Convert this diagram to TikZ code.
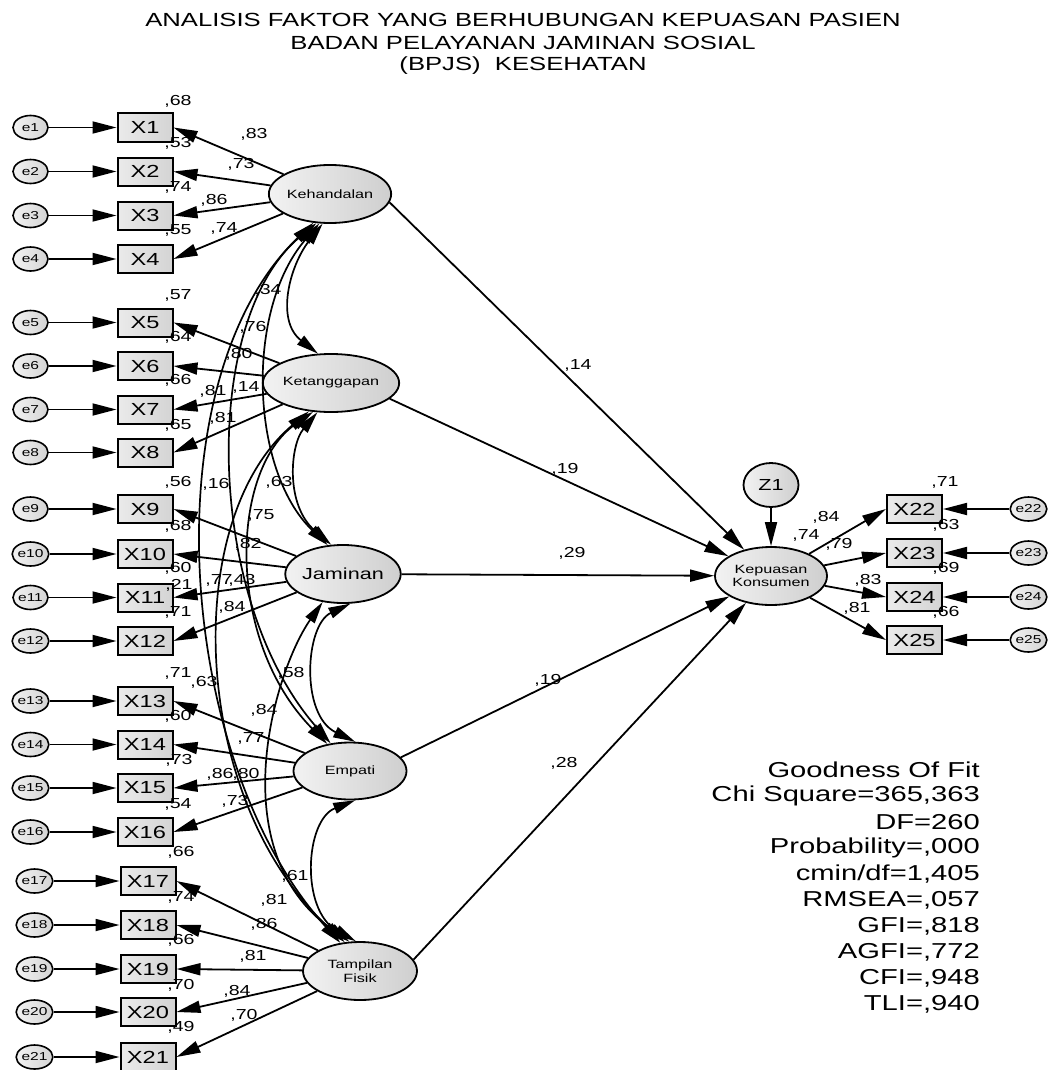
\documentclass[tikz,border=0pt]{standalone}
\usepackage{fontspec}
\setmainfont{Liberation Sans}[FakeStretch=1.35]
\usetikzlibrary{arrows.meta,shapes.geometric}
\newcommand{\myfs}[1]{\fontsize{#1}{#1}\selectfont}
\begin{document}
\begin{tikzpicture}[x=1pt,y=-1pt,
  obs/.style={draw,line width=2pt,left color=black!8,right color=black!17,minimum width=55pt,minimum height=28pt,inner sep=0pt,font=\myfs{17.5}},
  err/.style={ellipse,draw,line width=1.6pt,left color=black!5,right color=black!17,minimum width=35pt,minimum height=24pt,inner sep=0pt,font=\myfs{11.5}},
  lat/.style={ellipse,draw,line width=1.8pt,left color=black!5,right color=black!19,minimum width=114pt,minimum height=58pt,inner sep=0pt,align=center,font=\fontsize{12}{13.5}\selectfont},
  arr/.style={line width=1.8pt,-{Triangle[length=24pt,width=12pt]}},
  cov/.style={line width=1.7pt,{Triangle[length=22pt,width=11pt]}-{Triangle[length=22pt,width=11pt]}},
  num/.style={font=\myfs{14.5},inner sep=0pt},
  gof/.style={font=\myfs{21.6},inner sep=0pt,anchor=east},
  ttl/.style={font=\myfs{19},inner sep=0pt}]
\useasboundingbox (0,0) rectangle (1047,1070);

% title
\node[ttl] (t1) at (523,20) {ANALISIS FAKTOR YANG BERHUBUNGAN KEPUASAN PASIEN};
\node[ttl] (t2) at (523,43) {BADAN PELAYANAN JAMINAN SOSIAL};
\node[ttl] (t3) at (523,66) {(BPJS)\ \ KESEHATAN};

% observed variables and errors (left)
\foreach \i/\y in {1/127.5,2/171.5,3/215.5,4/259,5/322.5,6/366,7/409.5,8/452.5,9/509,10/554,11/597.5,12/641,13/701,14/744.5,15/788,16/832}{
  \node[obs] (X\i) at (145,\y) {X\i};
  \node[err] (e\i) at (30.5,\y) {e\i};
  \draw[arr] (e\i) -- (X\i);
}
\foreach \i/\y in {17/881,18/925,19/969,20/1012,21/1057}{
  \node[obs] (X\i) at (148,\y) {X\i};
  \node[err] (e\i) at (34.5,\y) {e\i};
  \draw[arr] (e\i) -- (X\i);
}

% latent variables
\node[lat] (Keh) at (330,194) {Kehandalan};
\node[lat] (Ket) at (331,383) {Ketanggapan};
\node[lat,minimum width=111pt,font=\myfs{16}] (Jam) at (343,574) {Jaminan};
\node[lat,minimum width=113pt,minimum height=57pt] (Emp) at (350,771) {Empati};
\node[lat] (Tam) at (360,971) {Tampilan\\Fisik};
\node[lat,minimum width=112pt] (Kep) at (771,576) {Kepuasan\\Konsumen};
\node[ellipse,draw,line width=1.8pt,left color=black!5,right color=black!19,minimum width=55pt,minimum height=44pt,inner sep=0pt,font=\myfs{16}] (Z1) at (771,485) {Z1};

% loadings
\foreach \i in {1,2,3,4}{\draw[arr] (Keh) -- (X\i.east);}
\foreach \i in {5,6,7,8}{\draw[arr] (Ket) -- (X\i.east);}
\foreach \i in {9,10,11,12}{\draw[arr] (Jam) -- (X\i.east);}
\foreach \i in {13,14,15,16}{\draw[arr] (Emp) -- (X\i.east);}
\foreach \i in {17,18,19,20,21}{\draw[arr] (Tam) -- (X\i.east);}

% right indicators
\foreach \i/\y in {22/509,23/553,24/597,25/640}{
  \node[obs] (X\i) at (914.5,\y) {X\i};
  \node[err] (e\i) at (1028.5,\y) {e\i};
  \draw[arr] (e\i) -- (X\i);
  \draw[arr] (Kep) -- (X\i.west);
}

% structural paths
\draw[arr] (Keh.-8) -- (Kep);
\draw[arr] (Ket.-15) -- (Kep);
\draw[arr] (Jam) -- (Kep);
\draw[arr] (Emp.15) -- (Kep);
\draw[arr] (Tam.12) -- (Kep);
\draw[arr] (Z1) -- (Kep);

% covariances
\draw[cov] (Keh.256) .. controls (290,265) and (275,320) .. (Ket.114);
\draw[cov] (Ket.245) .. controls (290,445) and (285,505) .. (Jam.112);
\draw[cov] (Jam.284) .. controls (305,625) and (300,715) .. (Emp.80);
\draw[cov] (Emp.280) .. controls (305,820) and (300,910) .. (Tam.98);
\draw[cov] (Keh.250) .. controls (245,310) and (250,470) .. (Jam.118);
\draw[cov] (Ket.238) .. controls (230,470) and (225,640) .. (Emp.130);
\draw[cov] (Keh.245) .. controls (200,320) and (205,600) .. (Emp.125);
\draw[cov] (Ket.232) .. controls (180,520) and (190,800) .. (Tam.118);
\draw[cov] (Keh.240) .. controls (150,380) and (175,760) .. (Tam.125);
\draw[cov] (Jam.234) .. controls (275,670) and (220,850) .. (Tam.110);

% loading labels
\node[num] (l1) at (254,134) {,83};
\node[num] (l2) at (241,164) {,73};
\node[num] (l3) at (214,200) {,86};
\node[num] (l4) at (224,228) {,74};
\node[num] (l5) at (253,327) {,76};
\node[num] (l6) at (239,354) {,80};
\node[num] (l7) at (213,391) {,81};
\node[num] (l8) at (223,418) {,81};
\node[num] (l9) at (261,515) {,75};
\node[num] (l10) at (248,544) {,82};
\node[num] (l11) at (219,580) {,77};
\node[num] (l12) at (232,607) {,84};
\node[num] (l13) at (264,710) {,84};
\node[num] (l14) at (251,738) {,77};
\node[num] (l15) at (220,774) {,86};
\node[num] (l16) at (235,801) {,73};
\node[num] (l17) at (274,900) {,81};
\node[num] (l18) at (264,924) {,86};
\node[num] (l19) at (253,956) {,81};
\node[num] (l20) at (237,991) {,84};
\node[num] (l21) at (244,1015) {,70};

% R squared labels
\node[num] (r1) at (178,101) {,68};
\node[num] (r2) at (178,143) {,53};
\node[num] (r3) at (178,187) {,74};
\node[num] (r4) at (178,230) {,55};
\node[num] (r5) at (178,295) {,57};
\node[num] (r6) at (178,337) {,64};
\node[num] (r7) at (178,380) {,66};
\node[num] (r8) at (178,425) {,65};
\node[num] (r9) at (178,482) {,56};
\node[num] (r10) at (178,526) {,68};
\node[num] (r11) at (178,568) {,60};
\node[num] (r12) at (178,612) {,71};
\node[num] (r13) at (178,673) {,71};
\node[num] (r14) at (178,716) {,60};
\node[num] (r15) at (179,760) {,73};
\node[num] (r16) at (178,804) {,54};
\node[num] (r17) at (181,852) {,66};
\node[num] (r18) at (181,897) {,74};
\node[num] (r19) at (181,940) {,66};
\node[num] (r20) at (181,985) {,70};
\node[num] (r21) at (181,1027) {,49};

% correlation labels
\node[num] (c1) at (268,290) {,34};
\node[num] (c2) at (246,387) {,14};
\node[num] (c3) at (216,484) {,16};
\node[num] (c4) at (279,482) {,63};
\node[num] (c5) at (242,580) {,43};
\node[num] (c6) at (179,585) {,21};
\node[num] (c7) at (291,673) {,58};
\node[num] (c8) at (204,682) {,63};
\node[num] (c9) at (246,774) {,80};
\node[num] (c10) at (295,876) {,61};

% structural labels
\node[num] (s1) at (578,365) {,14};
\node[num] (s2) at (565,469) {,19};
\node[num] (s3) at (572,553) {,29};
\node[num] (s4) at (548,680) {,19};
\node[num] (s5) at (564,763) {,28};

% right side labels
\node[num] (k1) at (826,517) {,84};
\node[num] (k0) at (806,535) {,74};
\node[num] (k2) at (839,544) {,79};
\node[num] (k3) at (868,580) {,83};
\node[num] (k4) at (857,608) {,81};
\node[num] (r22) at (945,482) {,71};
\node[num] (r23) at (946,525) {,63};
\node[num] (r24) at (946,568) {,69};
\node[num] (r25) at (946,612) {,66};

% goodness of fit
\node[gof] (g1) at (980,770) {Goodness Of Fit};
\node[gof] (g2) at (980,796) {Chi Square=365,363};
\node[gof] (g3) at (980,822) {DF=260};
\node[gof] (g4) at (980,848) {Probability=,000};
\node[gof] (g5) at (980,874) {cmin/df=1,405};
\node[gof] (g6) at (980,900) {RMSEA=,057};
\node[gof] (g7) at (980,926) {GFI=,818};
\node[gof] (g8) at (980,952) {AGFI=,772};
\node[gof] (g9) at (980,978) {CFI=,948};
\node[gof] (g10) at (980,1004) {TLI=,940};
\end{tikzpicture}
\end{document}
